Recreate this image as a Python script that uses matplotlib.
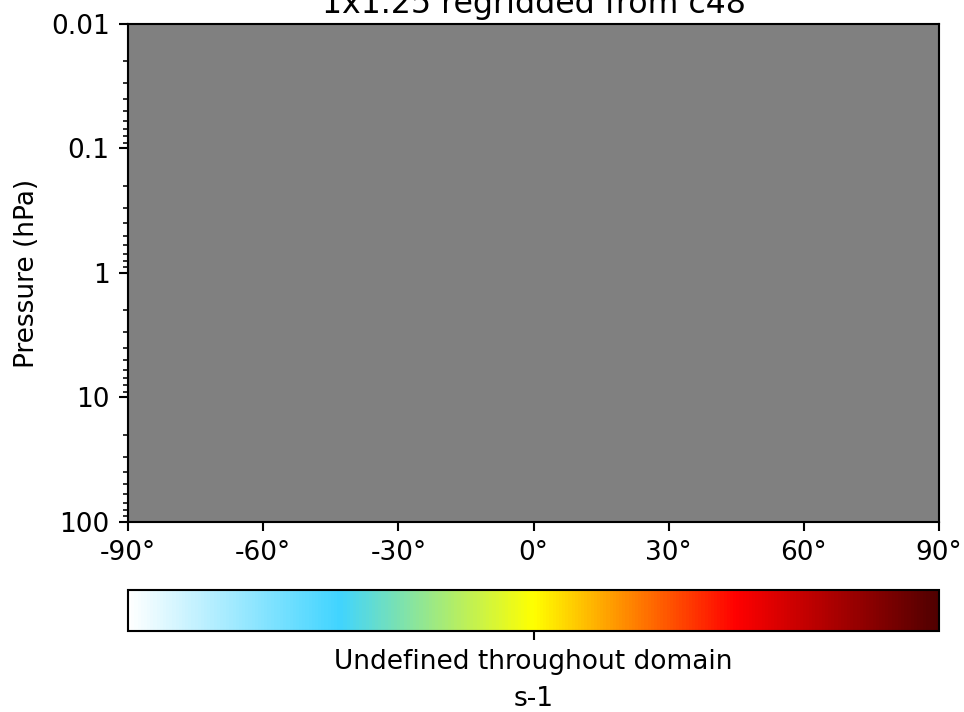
import matplotlib
matplotlib.use('Agg')
import matplotlib.pyplot as plt
import matplotlib.ticker as mticker
from matplotlib.colors import LinearSegmentedColormap, Normalize
import numpy as np

plt.rcParams['font.size'] = 10

# Grid: 1x1.25 latitudes and pressure levels (hPa)
lat = np.arange(-90, 91, 1.0)
pres = np.array([100, 50, 20, 10, 5, 2, 1, 0.5, 0.2, 0.1, 0.05, 0.02, 0.01])

# Field is undefined everywhere
field = np.full((len(pres), len(lat)), np.nan)

# Colormap stops (white -> cyan -> yellow -> red -> dark red)
cmap_pos = [0.0, 0.26, 0.5, 0.75, 1.0]
cmap_cols = ['#ffffff', '#40d4ff', '#ffff00', '#ff0000', '#500000']

xticks = [-90, -60, -30, 0, 30, 60, 90]
yticks = [0.01, 0.1, 1, 10, 100]

cmap = LinearSegmentedColormap.from_list('whbuylrd', list(zip(cmap_pos, cmap_cols)))
cmap.set_bad('#808080')

dpi = 190
fig = plt.figure(figsize=(964 / dpi, 712 / dpi), dpi=dpi)
ax = fig.add_axes([0.1328, 0.2669, 0.8413, 0.6994])
cax = fig.add_axes([0.1328, 0.1138, 0.8413, 0.0576])

mesh = ax.pcolormesh(lat, pres, np.ma.masked_invalid(field), cmap=cmap,
                     norm=Normalize(vmin=-1, vmax=1), shading='nearest')
ax.set_facecolor('#808080')
ax.set_yscale('log')
ax.set_ylim(100, 0.01)
ax.set_xlim(-90, 90)
ax.set_xticks(xticks)
ax.set_xticklabels(['{}°'.format(v) for v in xticks])
ax.set_yticks(yticks)
ax.yaxis.set_major_formatter(mticker.FuncFormatter(lambda v, p: '{:g}'.format(v)))
ax.set_ylabel('Pressure (hPa)')
ax.set_title('1x1.25 regridded from c48', pad=4)

cb = fig.colorbar(mesh, cax=cax, orientation='horizontal')
cb.set_ticks([0])
cb.set_ticklabels(['Undefined throughout domain'])
cb.set_label('s-1')

fig.savefig('out.png', dpi=dpi)
